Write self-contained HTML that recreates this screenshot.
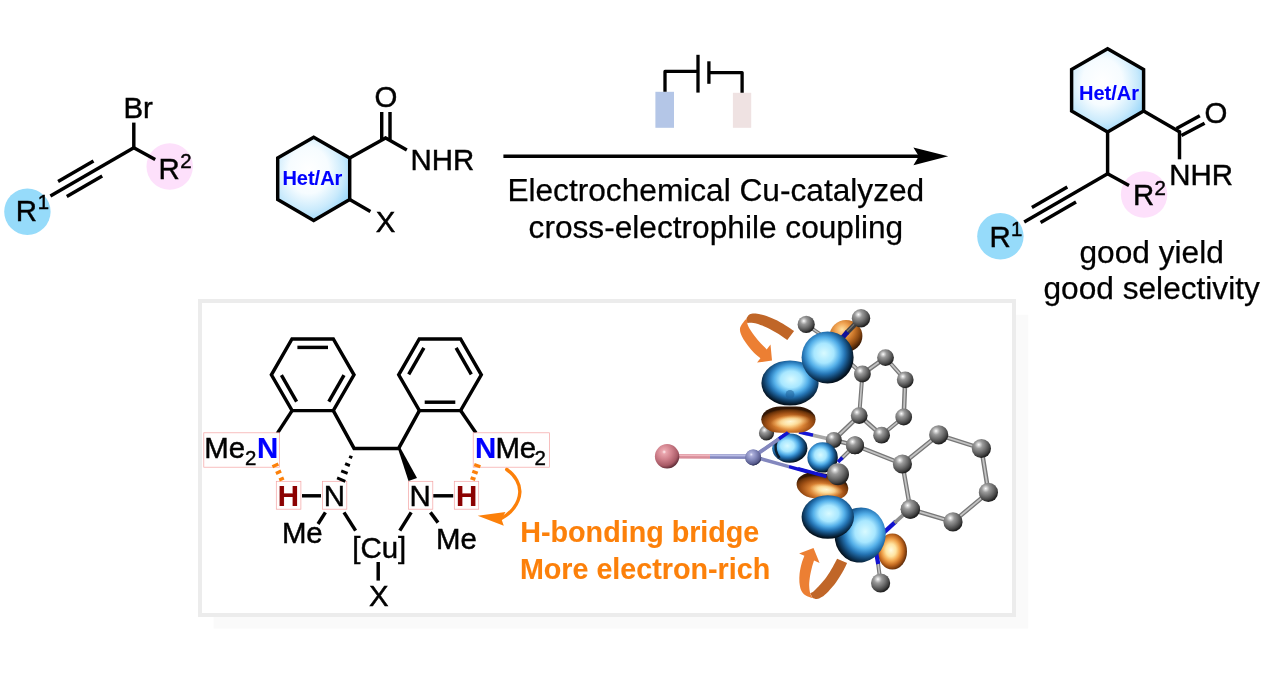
<!DOCTYPE html>
<html><head><meta charset="utf-8"><title>Graphical abstract</title>
<style>
html,body{margin:0;padding:0;background:#fff;overflow:hidden}
svg{display:block;will-change:transform;opacity:0.9999}
text{font-family:"Liberation Sans",sans-serif}
</style></head><body>
<svg width="1268" height="677" viewBox="0 0 1268 677">
<defs>
<radialGradient id="hexg" cx="43%" cy="40%" r="62%">
<stop offset="0" stop-color="#ffffff"/><stop offset="0.45" stop-color="#f6fcff"/><stop offset="0.78" stop-color="#c9eafc"/><stop offset="1" stop-color="#a0d9fa"/>
</radialGradient>
<radialGradient id="gs" cx="36%" cy="30%" r="68%">
<stop offset="0" stop-color="#ffffff"/><stop offset="0.1" stop-color="#dadada"/><stop offset="0.3" stop-color="#9a9a9a"/><stop offset="0.6" stop-color="#6e6e6e"/><stop offset="0.88" stop-color="#404040"/><stop offset="1" stop-color="#232323"/>
</radialGradient>
<radialGradient id="bl" cx="43%" cy="42%" r="58%">
<stop offset="0" stop-color="#d8faff"/><stop offset="0.33" stop-color="#a8e7ff"/><stop offset="0.53" stop-color="#55b0e9"/><stop offset="0.69" stop-color="#2575b5"/><stop offset="0.85" stop-color="#103f68"/><stop offset="1" stop-color="#04121f"/>
</radialGradient>
<radialGradient id="og" cx="45%" cy="46%" r="58%">
<stop offset="0" stop-color="#fffbe0"/><stop offset="0.3" stop-color="#ffe4a0"/><stop offset="0.52" stop-color="#f2a64e"/><stop offset="0.72" stop-color="#c46a20"/><stop offset="0.9" stop-color="#7a3a0c"/><stop offset="1" stop-color="#3e1c04"/>
</radialGradient>
<radialGradient id="pk" cx="38%" cy="32%" r="70%">
<stop offset="0" stop-color="#fff0f1"/><stop offset="0.12" stop-color="#eaa6ae"/><stop offset="0.45" stop-color="#d0818c"/><stop offset="0.8" stop-color="#a85a66"/><stop offset="1" stop-color="#5e2c36"/>
</radialGradient>
<radialGradient id="cu" cx="38%" cy="32%" r="70%">
<stop offset="0" stop-color="#eef0ff"/><stop offset="0.15" stop-color="#abaeda"/><stop offset="0.5" stop-color="#8186b9"/><stop offset="0.85" stop-color="#565a8c"/><stop offset="1" stop-color="#2c2f55"/>
</radialGradient>
<radialGradient id="bl2" cx="52%" cy="42%" r="56%">
<stop offset="0" stop-color="#d8faff"/><stop offset="0.33" stop-color="#a8e7ff"/><stop offset="0.53" stop-color="#55b0e9"/><stop offset="0.69" stop-color="#2575b5"/><stop offset="0.85" stop-color="#103f68"/><stop offset="1" stop-color="#04121f"/>
</radialGradient>
<radialGradient id="og2" cx="52%" cy="66%" r="58%">
<stop offset="0" stop-color="#fff0c0"/><stop offset="0.22" stop-color="#f6c074"/><stop offset="0.45" stop-color="#d98234"/><stop offset="0.7" stop-color="#a35216"/><stop offset="0.9" stop-color="#6a3208"/><stop offset="1" stop-color="#321604"/>
</radialGradient>
<linearGradient id="oa2" x1="0" y1="0" x2="1" y2="0">
<stop offset="0" stop-color="#f08436"/><stop offset="1" stop-color="#c4672a"/>
</linearGradient>
<radialGradient id="bl3" cx="58%" cy="42%" r="60%">
<stop offset="0" stop-color="#d8faff"/><stop offset="0.33" stop-color="#a8e7ff"/><stop offset="0.53" stop-color="#55b0e9"/><stop offset="0.69" stop-color="#2575b5"/><stop offset="0.85" stop-color="#103f68"/><stop offset="1" stop-color="#04121f"/>
</radialGradient>
<radialGradient id="og3" cx="38%" cy="30%" r="70%">
<stop offset="0" stop-color="#ffe0a0"/><stop offset="0.3" stop-color="#f0a352"/><stop offset="0.55" stop-color="#c87428"/><stop offset="0.78" stop-color="#8e4a12"/><stop offset="1" stop-color="#3e1c04"/>
</radialGradient>
<radialGradient id="hl" cx="50%" cy="50%" r="50%">
<stop offset="0" stop-color="#fff8d8" stop-opacity="0.95"/><stop offset="0.5" stop-color="#ffe7a8" stop-opacity="0.7"/><stop offset="1" stop-color="#f6b868" stop-opacity="0"/>
</radialGradient>
<linearGradient id="oa1" x1="0" y1="0" x2="1" y2="0">
<stop offset="0" stop-color="#f08436"/><stop offset="1" stop-color="#c4672a"/>
</linearGradient>
</defs>
<rect x="0" y="0" width="1268" height="677" fill="#fff"/>

<circle cx="27.4" cy="211.7" r="23.2" fill="#96dbfa"/>
<circle cx="169.7" cy="166.5" r="23.2" fill="#fde0fb"/>
<line x1="133.8" y1="147.8" x2="155.2" y2="159.5" stroke="#000" stroke-width="3.45" stroke-linecap="butt"/>
<line x1="133.8" y1="147.8" x2="50.4" y2="195.9" stroke="#000" stroke-width="3.45" stroke-linecap="butt"/>
<line x1="93.5" y1="161.0" x2="58.1" y2="181.5" stroke="#000" stroke-width="3.45" stroke-linecap="butt"/>
<line x1="102.2" y1="176.1" x2="66.8" y2="196.5" stroke="#000" stroke-width="3.45" stroke-linecap="butt"/>
<line x1="133.8" y1="149.0" x2="133.8" y2="122.6" stroke="#000" stroke-width="3.45" stroke-linecap="butt"/>
<text x="123.5" y="117.8" font-size="29.4" text-anchor="start" font-weight="normal" fill="#000" stroke="#000" stroke-width="0.45">Br</text>
<text x="15.7" y="220.8" font-size="29.4" text-anchor="start" font-weight="normal" fill="#000" stroke="#000" stroke-width="0.45">R</text>
<text x="37.8" y="209.4" font-size="20.4" text-anchor="start" font-weight="normal" fill="#000" stroke="#000" stroke-width="0.45">1</text>
<text x="158.5" y="179.4" font-size="29.4" text-anchor="start" font-weight="normal" fill="#000" stroke="#000" stroke-width="0.45">R</text>
<text x="180.2" y="168.4" font-size="20.4" text-anchor="start" font-weight="normal" fill="#000" stroke="#000" stroke-width="0.45">2</text>
<path d="M313.7,137.2 L349.7,158.0 L349.7,199.6 L313.7,220.4 L277.7,199.6 L277.7,158.0 Z" fill="url(#hexg)" stroke="#000" stroke-width="3.45" stroke-linejoin="miter"/>
<text x="282.4" y="184.9" font-size="20.0" text-anchor="start" font-weight="bold" fill="#0000ff" stroke="#0000ff" stroke-width="0.1">Het/Ar</text>
<line x1="349.7" y1="158.0" x2="386.4" y2="137.4" stroke="#000" stroke-width="3.45" stroke-linecap="butt"/>
<line x1="381.7" y1="139.8" x2="381.7" y2="112.0" stroke="#000" stroke-width="3.45" stroke-linecap="butt"/>
<line x1="390.0" y1="139.8" x2="390.0" y2="112.0" stroke="#000" stroke-width="3.45" stroke-linecap="butt"/>
<text x="374.6" y="107.4" font-size="29.4" text-anchor="start" font-weight="normal" fill="#000" stroke="#000" stroke-width="0.45">O</text>
<line x1="384.8" y1="137.4" x2="406.8" y2="149.9" stroke="#000" stroke-width="3.45" stroke-linecap="butt"/>
<text x="410.6" y="169.8" font-size="29.4" text-anchor="start" font-weight="normal" fill="#000" stroke="#000" stroke-width="0.45">NHR</text>
<line x1="349.7" y1="199.6" x2="370.4" y2="211.5" stroke="#000" stroke-width="3.45" stroke-linecap="butt"/>
<text x="375.7" y="231.8" font-size="29.4" text-anchor="start" font-weight="normal" fill="#000" stroke="#000" stroke-width="0.45">X</text>
<line x1="503.4" y1="156.3" x2="920.0" y2="156.3" stroke="#000" stroke-width="3.6" stroke-linecap="butt"/>
<path d="M948.2,156.3 L913.4,147.4 L918.8,156.3 L913.4,165.2 Z" fill="#000"/>
<rect x="655.4" y="91.8" width="18.6" height="36" fill="#b4c6e7"/>
<rect x="732.9" y="92.8" width="18.3" height="35" fill="#efe2e2"/>
<path d="M665.0,91.8 L665.0,71.4 L697.0,71.4" fill="none" stroke="#000" stroke-width="3.3" stroke-linejoin="round"/>
<line x1="698.0" y1="54.8" x2="698.0" y2="92.6" stroke="#000" stroke-width="3.3" stroke-linecap="butt"/>
<line x1="708.9" y1="61.3" x2="708.9" y2="83.8" stroke="#000" stroke-width="3.3" stroke-linecap="butt"/>
<path d="M710.0,72.6 L742.1,72.6 L742.1,92.8" fill="none" stroke="#000" stroke-width="3.3" stroke-linejoin="round"/>
<text x="507.4" y="201.4" font-size="31.65" text-anchor="start" font-weight="normal" fill="#000" stroke="#000" stroke-width="0.25">Electrochemical Cu-catalyzed</text>
<text x="528.6" y="237.5" font-size="31.65" text-anchor="start" font-weight="normal" fill="#000" stroke="#000" stroke-width="0.25">cross-electrophile coupling</text>
<path d="M1107.6,48.7 L1143.6,69.5 L1143.6,111.1 L1107.6,131.9 L1071.6,111.1 L1071.6,69.5 Z" fill="url(#hexg)" stroke="#000" stroke-width="3.45" stroke-linejoin="miter"/>
<text x="1079.0" y="99.8" font-size="20.0" text-anchor="start" font-weight="bold" fill="#0000ff" stroke="#0000ff" stroke-width="0.1">Het/Ar</text>
<circle cx="1000.4" cy="236.3" r="23.2" fill="#96dbfa"/>
<circle cx="1144.1" cy="194.5" r="23.2" fill="#fde0fb"/>
<line x1="1107.6" y1="173.8" x2="1129.0" y2="185.5" stroke="#000" stroke-width="3.45" stroke-linecap="butt"/>
<line x1="1107.6" y1="173.8" x2="1024.2" y2="221.9" stroke="#000" stroke-width="3.45" stroke-linecap="butt"/>
<line x1="1067.3" y1="187.0" x2="1031.9" y2="207.5" stroke="#000" stroke-width="3.45" stroke-linecap="butt"/>
<line x1="1076.0" y1="202.1" x2="1040.6" y2="222.5" stroke="#000" stroke-width="3.45" stroke-linecap="butt"/>
<line x1="1107.6" y1="175.0" x2="1107.6" y2="131.9" stroke="#000" stroke-width="3.45" stroke-linecap="butt"/>
<text x="989.5" y="247.3" font-size="29.4" text-anchor="start" font-weight="normal" fill="#000" stroke="#000" stroke-width="0.45">R</text>
<text x="1011.1" y="236.3" font-size="20.4" text-anchor="start" font-weight="normal" fill="#000" stroke="#000" stroke-width="0.45">1</text>
<text x="1133.1" y="205.3" font-size="29.4" text-anchor="start" font-weight="normal" fill="#000" stroke="#000" stroke-width="0.45">R</text>
<text x="1154.5" y="194.5" font-size="20.4" text-anchor="start" font-weight="normal" fill="#000" stroke="#000" stroke-width="0.45">2</text>
<line x1="1143.6" y1="111.1" x2="1180.3" y2="132.2" stroke="#000" stroke-width="3.45" stroke-linecap="butt"/>
<line x1="1176.5" y1="128.5" x2="1199.8" y2="115.7" stroke="#000" stroke-width="3.45" stroke-linecap="butt"/>
<line x1="1181.4" y1="135.6" x2="1204.6" y2="123.2" stroke="#000" stroke-width="3.45" stroke-linecap="butt"/>
<text x="1204.6" y="122.5" font-size="29.4" text-anchor="start" font-weight="normal" fill="#000" stroke="#000" stroke-width="0.45">O</text>
<line x1="1179.5" y1="130.9" x2="1179.5" y2="159.3" stroke="#000" stroke-width="3.45" stroke-linecap="butt"/>
<text x="1169.2" y="184.7" font-size="29.4" text-anchor="start" font-weight="normal" fill="#000" stroke="#000" stroke-width="0.45">NHR</text>
<text x="1079.5" y="262.8" font-size="31.65" text-anchor="start" font-weight="normal" fill="#000" stroke="#000" stroke-width="0.25">good yield</text>
<text x="1043.5" y="298.7" font-size="31.65" text-anchor="start" font-weight="normal" fill="#000" stroke="#000" stroke-width="0.25">good selectivity</text>
<rect x="213.6" y="314.8" width="814.6" height="313.8" fill="#fafafa"/>
<rect x="200" y="301" width="814" height="314" fill="#fff" stroke="#ececec" stroke-width="4"/>
<path d="M292.0,339.0 L333.3,339.0 L354.0,374.8 L333.3,410.6 L292.1,410.6 L271.4,374.8 Z" fill="none" stroke="#000" stroke-width="3.45" stroke-linejoin="miter"/>
<line x1="297.4" y1="347.4" x2="328.0" y2="347.4" stroke="#000" stroke-width="3.45" stroke-linecap="butt"/>
<line x1="344.0" y1="375.2" x2="328.8" y2="401.7" stroke="#000" stroke-width="3.45" stroke-linecap="butt"/>
<line x1="296.6" y1="401.7" x2="281.4" y2="375.2" stroke="#000" stroke-width="3.45" stroke-linecap="butt"/>
<path d="M419.3,339.0 L460.6,339.0 L481.3,374.8 L460.6,410.6 L419.4,410.6 L398.7,374.8 Z" fill="none" stroke="#000" stroke-width="3.45" stroke-linejoin="miter"/>
<line x1="456.1" y1="347.9" x2="471.3" y2="374.4" stroke="#000" stroke-width="3.45" stroke-linecap="butt"/>
<line x1="455.3" y1="402.2" x2="424.7" y2="402.2" stroke="#000" stroke-width="3.45" stroke-linecap="butt"/>
<line x1="408.7" y1="374.4" x2="423.9" y2="347.9" stroke="#000" stroke-width="3.45" stroke-linecap="butt"/>
<line x1="292.1" y1="410.6" x2="277.3" y2="433.4" stroke="#000" stroke-width="3.45" stroke-linecap="butt"/>
<path d="M333.3,410.6 L354.1,448.4 L398.6,448.4 L419.4,410.6" fill="none" stroke="#000" stroke-width="3.45" stroke-linejoin="miter"/>
<line x1="460.6" y1="410.6" x2="476.0" y2="432.9" stroke="#000" stroke-width="3.45" stroke-linecap="butt"/>
<rect x="203.8" y="432.8" width="75.8" height="34.4" fill="#fffefe" stroke="#f4a3a3" stroke-width="0.7"/>
<rect x="473.2" y="432.8" width="76.4" height="34.4" fill="#fffefe" stroke="#f4a3a3" stroke-width="0.7"/>
<rect x="276.3" y="481.3" width="24.6" height="27.9" fill="#fffefe" stroke="#f4a3a3" stroke-width="0.7"/>
<rect x="322.4" y="481.3" width="24.4" height="27.9" fill="#fffefe" stroke="#f4a3a3" stroke-width="0.7"/>
<rect x="408.6" y="481.3" width="24.2" height="27.9" fill="#fffefe" stroke="#f4a3a3" stroke-width="0.7"/>
<rect x="454.3" y="481.3" width="24.4" height="27.9" fill="#fffefe" stroke="#f4a3a3" stroke-width="0.7"/>
<text x="204.2" y="458.3" font-size="29.4" text-anchor="start" font-weight="normal" fill="#000" stroke="#000" stroke-width="0.45">Me</text>
<text x="244.9" y="464.6" font-size="20.4" text-anchor="start" font-weight="normal" fill="#000" stroke="#000" stroke-width="0.45">2</text>
<text x="256.9" y="457.8" font-size="29.4" text-anchor="start" font-weight="bold" fill="#0000ff" stroke="#0000ff" stroke-width="0.2">N</text>
<text x="475.1" y="457.8" font-size="29.4" text-anchor="start" font-weight="bold" fill="#0000ff" stroke="#0000ff" stroke-width="0.2">N</text>
<text x="495.4" y="458.3" font-size="29.4" text-anchor="start" font-weight="normal" fill="#000" stroke="#000" stroke-width="0.45">Me</text>
<text x="534.6" y="464.6" font-size="20.4" text-anchor="start" font-weight="normal" fill="#000" stroke="#000" stroke-width="0.45">2</text>
<text x="277.8" y="506.0" font-size="29.4" text-anchor="start" font-weight="bold" fill="#8b0000" stroke="#8b0000" stroke-width="0.2">H</text>
<text x="456.0" y="506.0" font-size="29.4" text-anchor="start" font-weight="bold" fill="#8b0000" stroke="#8b0000" stroke-width="0.2">H</text>
<text x="323.8" y="506.0" font-size="29.4" text-anchor="start" font-weight="normal" fill="#000" stroke="#000" stroke-width="0.45">N</text>
<text x="409.5" y="506.0" font-size="29.4" text-anchor="start" font-weight="normal" fill="#000" stroke="#000" stroke-width="0.45">N</text>
<line x1="302.0" y1="495.8" x2="321.0" y2="495.8" stroke="#000" stroke-width="3.45" stroke-linecap="butt"/>
<line x1="433.3" y1="495.8" x2="453.2" y2="495.8" stroke="#000" stroke-width="3.45" stroke-linecap="butt"/>
<line x1="349.1" y1="456.5" x2="352.3" y2="457.7" stroke="#000" stroke-width="2.9" stroke-linecap="butt"/>
<line x1="345.1" y1="463.6" x2="349.9" y2="465.6" stroke="#000" stroke-width="2.9" stroke-linecap="butt"/>
<line x1="341.2" y1="470.8" x2="347.6" y2="473.4" stroke="#000" stroke-width="2.9" stroke-linecap="butt"/>
<line x1="337.1" y1="477.9" x2="345.3" y2="481.3" stroke="#000" stroke-width="2.9" stroke-linecap="butt"/>
<path d="M397.6,447.6 L399.8,446.8 L417.0,478.0 L408.5,481.0 Z" fill="#000"/>
<line x1="272.4" y1="466.7" x2="278.4" y2="463.9" stroke="#fc800a" stroke-width="3.3" stroke-linecap="butt"/>
<line x1="275.9" y1="473.4" x2="281.1" y2="471.0" stroke="#fc800a" stroke-width="3.3" stroke-linecap="butt"/>
<line x1="279.2" y1="479.9" x2="283.8" y2="477.9" stroke="#fc800a" stroke-width="3.3" stroke-linecap="butt"/>
<line x1="474.2" y1="464.6" x2="480.4" y2="466.8" stroke="#fc800a" stroke-width="3.3" stroke-linecap="butt"/>
<line x1="472.3" y1="471.3" x2="477.7" y2="473.3" stroke="#fc800a" stroke-width="3.3" stroke-linecap="butt"/>
<line x1="470.6" y1="477.8" x2="475.4" y2="479.4" stroke="#fc800a" stroke-width="3.3" stroke-linecap="butt"/>
<line x1="325.4" y1="512.4" x2="318.0" y2="524.0" stroke="#000" stroke-width="3.45" stroke-linecap="butt"/>
<line x1="344.0" y1="512.4" x2="355.6" y2="530.6" stroke="#000" stroke-width="3.45" stroke-linecap="butt"/>
<line x1="411.2" y1="512.4" x2="399.8" y2="530.6" stroke="#000" stroke-width="3.45" stroke-linecap="butt"/>
<line x1="430.4" y1="512.4" x2="438.0" y2="522.6" stroke="#000" stroke-width="3.45" stroke-linecap="butt"/>
<text x="281.9" y="543.4" font-size="29.4" text-anchor="start" font-weight="normal" fill="#000" stroke="#000" stroke-width="0.45">Me</text>
<text x="436.1" y="548.7" font-size="29.4" text-anchor="start" font-weight="normal" fill="#000" stroke="#000" stroke-width="0.45">Me</text>
<text x="352.3" y="557.8" font-size="29.4" text-anchor="start" font-weight="normal" fill="#000" stroke="#000" stroke-width="0.45">[Cu]</text>
<line x1="378.2" y1="562.0" x2="378.2" y2="580.6" stroke="#000" stroke-width="3.45" stroke-linecap="butt"/>
<text x="368.9" y="606.4" font-size="29.4" text-anchor="start" font-weight="normal" fill="#000" stroke="#000" stroke-width="0.45">X</text>
<path d="M506.7,469.5 C515.5,475.5 520.3,484.5 519.8,492.5 C519.2,503.5 511,513.5 501.2,518.4" fill="none" stroke="#fc800a" stroke-width="3.4" stroke-linecap="round"/>
<path d="M477.7,515.7 L505.5,512.0 L501.4,518.9 L503.8,525.7 Z" fill="#fc800a"/>
<text x="520.3" y="542.2" font-size="28.7" text-anchor="start" font-weight="bold" fill="#fc800a" stroke="#fc800a" stroke-width="0.1">H-bonding bridge</text>
<text x="519.9" y="579.2" font-size="28.7" text-anchor="start" font-weight="bold" fill="#fc800a" stroke="#fc800a" stroke-width="0.1">More electron-rich</text>
<line x1="862.4" y1="374.0" x2="885.5" y2="357.6" stroke="#787878" stroke-width="4.6" stroke-linecap="round"/>
<line x1="862.4" y1="374.0" x2="885.5" y2="357.6" stroke="#c4c4c4" stroke-width="1.8" stroke-linecap="round"/>
<line x1="885.5" y1="357.6" x2="905.2" y2="379.8" stroke="#787878" stroke-width="4.0" stroke-linecap="round"/>
<line x1="885.5" y1="357.6" x2="905.2" y2="379.8" stroke="#c4c4c4" stroke-width="1.6" stroke-linecap="round"/>
<line x1="905.2" y1="379.8" x2="903.7" y2="417.0" stroke="#787878" stroke-width="4.6" stroke-linecap="round"/>
<line x1="905.2" y1="379.8" x2="903.7" y2="417.0" stroke="#c4c4c4" stroke-width="1.8" stroke-linecap="round"/>
<line x1="903.7" y1="417.0" x2="881.6" y2="435.2" stroke="#787878" stroke-width="4.0" stroke-linecap="round"/>
<line x1="903.7" y1="417.0" x2="881.6" y2="435.2" stroke="#c4c4c4" stroke-width="1.6" stroke-linecap="round"/>
<line x1="881.6" y1="435.2" x2="859.2" y2="415.6" stroke="#787878" stroke-width="4.6" stroke-linecap="round"/>
<line x1="881.6" y1="435.2" x2="859.2" y2="415.6" stroke="#c4c4c4" stroke-width="1.8" stroke-linecap="round"/>
<line x1="859.2" y1="415.6" x2="862.4" y2="374.0" stroke="#787878" stroke-width="4.0" stroke-linecap="round"/>
<line x1="859.2" y1="415.6" x2="862.4" y2="374.0" stroke="#c4c4c4" stroke-width="1.6" stroke-linecap="round"/>
<line x1="902.4" y1="464.0" x2="938.7" y2="434.8" stroke="#787878" stroke-width="4.6" stroke-linecap="round"/>
<line x1="902.4" y1="464.0" x2="938.7" y2="434.8" stroke="#c4c4c4" stroke-width="1.8" stroke-linecap="round"/>
<line x1="938.7" y1="434.8" x2="981.4" y2="448.5" stroke="#787878" stroke-width="4.4" stroke-linecap="round"/>
<line x1="938.7" y1="434.8" x2="981.4" y2="448.5" stroke="#c4c4c4" stroke-width="1.8" stroke-linecap="round"/>
<line x1="981.4" y1="448.5" x2="988.4" y2="492.4" stroke="#787878" stroke-width="4.6" stroke-linecap="round"/>
<line x1="981.4" y1="448.5" x2="988.4" y2="492.4" stroke="#c4c4c4" stroke-width="1.8" stroke-linecap="round"/>
<line x1="988.4" y1="492.4" x2="953.0" y2="521.9" stroke="#787878" stroke-width="4.4" stroke-linecap="round"/>
<line x1="988.4" y1="492.4" x2="953.0" y2="521.9" stroke="#c4c4c4" stroke-width="1.8" stroke-linecap="round"/>
<line x1="953.0" y1="521.9" x2="910.3" y2="509.2" stroke="#787878" stroke-width="4.6" stroke-linecap="round"/>
<line x1="953.0" y1="521.9" x2="910.3" y2="509.2" stroke="#c4c4c4" stroke-width="1.8" stroke-linecap="round"/>
<line x1="910.3" y1="509.2" x2="902.4" y2="464.0" stroke="#787878" stroke-width="4.4" stroke-linecap="round"/>
<line x1="910.3" y1="509.2" x2="902.4" y2="464.0" stroke="#c4c4c4" stroke-width="1.8" stroke-linecap="round"/>
<line x1="859.2" y1="415.6" x2="833.8" y2="440.0" stroke="#787878" stroke-width="4.6" stroke-linecap="round"/>
<line x1="859.2" y1="415.6" x2="833.8" y2="440.0" stroke="#c4c4c4" stroke-width="1.8" stroke-linecap="round"/>
<line x1="855.0" y1="445.3" x2="902.4" y2="464.0" stroke="#787878" stroke-width="4.4" stroke-linecap="round"/>
<line x1="855.0" y1="445.3" x2="902.4" y2="464.0" stroke="#c4c4c4" stroke-width="1.8" stroke-linecap="round"/>
<line x1="833.8" y1="440.0" x2="855.0" y2="445.3" stroke="#787878" stroke-width="4.4" stroke-linecap="round"/>
<line x1="833.8" y1="440.0" x2="855.0" y2="445.3" stroke="#c4c4c4" stroke-width="1.8" stroke-linecap="round"/>
<line x1="862.4" y1="374.0" x2="838.0" y2="352.0" stroke="#787878" stroke-width="4.2" stroke-linecap="round"/>
<line x1="862.4" y1="374.0" x2="838.0" y2="352.0" stroke="#c4c4c4" stroke-width="1.7" stroke-linecap="round"/>
<line x1="803.0" y1="433.0" x2="833.8" y2="440.0" stroke="#a8a8a8" stroke-width="3.6"/>
<line x1="799.0" y1="432.0" x2="813.0" y2="435.2" stroke="#1414d8" stroke-width="3.4"/>
<line x1="666.6" y1="456.3" x2="710" y2="456.5" stroke="#d98e9a" stroke-width="4.6"/>
<line x1="710" y1="456.5" x2="753.2" y2="456.6" stroke="#8387be" stroke-width="4.6"/>
<line x1="666.6" y1="455.3" x2="710" y2="455.5" stroke="#f0b6be" stroke-width="1.6"/>
<line x1="710" y1="455.5" x2="753.2" y2="455.6" stroke="#b9bce6" stroke-width="1.6"/>
<line x1="753.2" y1="456.6" x2="780.4" y2="437.9" stroke="#8387be" stroke-width="3.5"/>
<line x1="780.4" y1="437.9" x2="789.0" y2="432.0" stroke="#1212d0" stroke-width="3.5"/>
<circle cx="766.5" cy="433.0" r="7.6" fill="url(#gs)"/>
<line x1="753.2" y1="456.6" x2="788.9" y2="466.6" stroke="#8387be" stroke-width="3.5"/>
<line x1="788.9" y1="466.6" x2="824.5" y2="476.5" stroke="#1212d0" stroke-width="3.5"/>
<circle cx="667.1" cy="456.3" r="12.2" fill="url(#pk)"/>
<circle cx="753.2" cy="457.4" r="8.0" fill="url(#cu)"/>
<line x1="806.2" y1="324.4" x2="820.0" y2="334.0" stroke="#787878" stroke-width="3.6" stroke-linecap="round"/>
<line x1="806.2" y1="324.4" x2="820.0" y2="334.0" stroke="#c4c4c4" stroke-width="1.4" stroke-linecap="round"/>
<circle cx="806.2" cy="324.4" r="8.6" fill="url(#gs)"/>
<circle cx="862.4" cy="374.0" r="8.4" fill="url(#gs)"/>
<circle cx="885.5" cy="357.6" r="8.4" fill="url(#gs)"/>
<circle cx="905.2" cy="379.8" r="8.4" fill="url(#gs)"/>
<circle cx="903.7" cy="417.0" r="8.4" fill="url(#gs)"/>
<circle cx="881.6" cy="435.2" r="8.4" fill="url(#gs)"/>
<circle cx="859.2" cy="415.6" r="8.4" fill="url(#gs)"/>
<circle cx="902.4" cy="464.0" r="9.6" fill="url(#gs)"/>
<circle cx="938.7" cy="434.8" r="9.6" fill="url(#gs)"/>
<circle cx="981.4" cy="448.5" r="9.6" fill="url(#gs)"/>
<circle cx="988.4" cy="492.4" r="9.6" fill="url(#gs)"/>
<circle cx="953.0" cy="521.9" r="9.6" fill="url(#gs)"/>
<circle cx="910.3" cy="509.2" r="9.6" fill="url(#gs)"/>
<circle cx="833.8" cy="440.0" r="8.0" fill="url(#gs)"/>
<circle cx="855.0" cy="445.3" r="9.0" fill="url(#gs)"/>
<ellipse cx="846.0" cy="336.0" rx="16.4" ry="16.0" fill="url(#og3)" transform="rotate(0 846.0 336.0)"/>
<line x1="861.0" y1="318.2" x2="846.5" y2="333.0" stroke="#3e3e3e" stroke-width="5.0"/>
<line x1="860.0" y1="318.2" x2="845.5" y2="333.0" stroke="#707070" stroke-width="1.4"/>
<line x1="847.5" y1="331.8" x2="840.5" y2="340.0" stroke="#10109a" stroke-width="5.0"/>
<circle cx="861.0" cy="318.2" r="9.2" fill="url(#gs)"/>
<ellipse cx="790.0" cy="383.0" rx="28.6" ry="22.6" fill="url(#bl2)" transform="rotate(0 790.0 383.0)"/>
<circle cx="790" cy="394.4" r="4.4" fill="#1d5f97" opacity="0.55"/>
<ellipse cx="827.6" cy="357.4" rx="26.0" ry="26.0" fill="url(#bl)" transform="rotate(0 827.6 357.4)"/>
<rect x="761.2" y="406.4" width="54.4" height="26.4" rx="19.1" ry="13.2" fill="url(#og2)" transform="rotate(0 788.4 419.6)"/>
<ellipse cx="790.5" cy="421.5" rx="20.0" ry="6.6" fill="url(#hl)" transform="rotate(-5 790.5 421.5)"/>
<ellipse cx="789.8" cy="448.2" rx="17.6" ry="14.6" fill="url(#bl)" transform="rotate(0 789.8 448.2)"/>
<path d="M776.5,441 Q773.5,450 779.5,458" stroke="#08131f" stroke-width="2.6" fill="none" opacity="0.9"/>
<line x1="759.2" y1="452.8" x2="780" y2="438.2" stroke="#8387be" stroke-width="3.5"/>
<line x1="779" y1="438.9" x2="788.0" y2="432.6" stroke="#1212d0" stroke-width="3.5"/>
<circle cx="753.2" cy="457.4" r="8.0" fill="url(#cu)"/>
<ellipse cx="822.6" cy="457.4" rx="15.2" ry="15.2" fill="url(#bl)" transform="rotate(0 822.6 457.4)"/>
<rect x="796.4" y="473.4" width="52.0" height="26.0" rx="18.8" ry="13.0" fill="url(#og2)" transform="rotate(8 822.4 486.4)"/>
<ellipse cx="826.5" cy="489.5" rx="17.0" ry="6.0" fill="url(#hl)" transform="rotate(8 826.5 489.5)"/>
<line x1="798" y1="468.6" x2="826.5" y2="476.5" stroke="#1212d0" stroke-width="3.5"/>
<line x1="855.0" y1="445.3" x2="841.5" y2="458.5" stroke="#787878" stroke-width="4.0" stroke-linecap="round"/>
<line x1="855.0" y1="445.3" x2="841.5" y2="458.5" stroke="#c4c4c4" stroke-width="1.6" stroke-linecap="round"/>
<line x1="842.5" y1="457.5" x2="838" y2="462" stroke="#1212d0" stroke-width="3.5"/>
<circle cx="855.0" cy="445.3" r="9.0" fill="url(#gs)"/>
<circle cx="838.0" cy="474.2" r="11.0" fill="url(#gs)"/>
<line x1="884" y1="532.4" x2="896" y2="521.4" stroke="#1212d0" stroke-width="4.2"/>
<line x1="894.5" y1="522.8" x2="905.3" y2="513.2" stroke="#8e8e8e" stroke-width="3.8"/>
<circle cx="910.3" cy="509.2" r="9.6" fill="url(#gs)"/>
<ellipse cx="892.4" cy="551.6" rx="14.6" ry="18.0" fill="url(#og)" transform="rotate(0 892.4 551.6)"/>
<line x1="878.0" y1="563.0" x2="880.6" y2="583.0" stroke="#787878" stroke-width="4.0" stroke-linecap="round"/>
<line x1="878.0" y1="563.0" x2="880.6" y2="583.0" stroke="#c4c4c4" stroke-width="1.6" stroke-linecap="round"/>
<line x1="875.4" y1="549" x2="878.2" y2="564" stroke="#1212d0" stroke-width="4.2"/>
<circle cx="880.6" cy="583.0" r="9.6" fill="url(#gs)"/>
<ellipse cx="860.2" cy="535.0" rx="25.4" ry="27.6" fill="url(#bl3)" transform="rotate(12 860.2 535.0)"/>
<ellipse cx="827.8" cy="517.0" rx="26.2" ry="21.8" fill="url(#bl2)" transform="rotate(0 827.8 517.0)"/>
<path d="M794.1,330.9 C792.2,329.7 786.8,325.9 783.0,323.7 C779.3,321.6 775.2,319.5 771.5,318.0 C767.8,316.4 763.8,315.3 760.9,314.6 C758.0,313.9 756.1,313.6 754.2,313.6 C752.3,313.6 750.7,313.8 749.4,314.6 C748.1,315.4 747.0,317.8 746.5,318.4 L747.3,323.1 C747.8,323.0 748.7,322.7 750.4,322.8 C752.0,322.9 754.4,322.9 757.1,323.7 C759.8,324.5 763.3,326.0 766.7,327.6 C770.0,329.2 773.8,331.2 777.3,333.3 C780.7,335.4 785.7,338.9 787.3,340.0 Z" fill="#c06628"/>
<path d="M746.5,318.4 C745.8,319.3 743.3,322.0 742.2,323.7 C741.1,325.4 740.2,326.8 740.0,328.5 C739.8,330.2 740.2,332.0 740.8,333.8 C741.4,335.6 742.4,337.5 743.6,339.6 C744.9,341.6 746.7,344.0 748.4,346.3 C750.2,348.5 752.2,351.0 754.2,353.0 C756.2,355.0 759.4,357.4 760.4,358.3 L757.1,362.6 L772.0,360.5 L770.5,344.6 L766.7,349.4 C765.7,348.4 762.8,345.5 760.9,343.4 C759.0,341.3 756.9,338.9 755.2,336.7 C753.4,334.4 751.6,332.0 750.4,330.0 C749.1,327.9 748.0,325.7 747.5,324.2 C747.0,322.7 747.4,321.8 747.2,320.8 C747.0,319.9 746.6,318.8 746.5,318.4 Z" fill="#ec7f33"/>
<path d="M847.1,563.0 C846.3,564.6 844.2,569.4 842.3,572.6 C840.5,575.8 838.4,579.1 836.1,582.3 C833.8,585.4 830.8,588.9 828.4,591.4 C826.0,593.9 823.6,595.9 821.7,597.1 C819.8,598.4 818.4,598.9 816.9,599.1 C815.4,599.2 813.3,598.3 812.6,598.1 L810.2,593.3 C810.8,592.9 812.4,592.3 814.0,590.9 C815.6,589.5 817.7,587.5 819.8,585.1 C821.8,582.8 824.4,579.9 826.5,577.0 C828.6,574.1 830.5,570.9 832.3,567.8 C834.0,564.8 836.3,560.2 837.1,558.7 Z" fill="#c06628"/>
<path d="M812.6,598.1 C811.4,597.6 807.3,596.6 805.4,595.2 C803.4,593.9 802.0,592.1 801.0,589.9 C800.1,587.8 799.7,585.0 799.4,582.3 C799.2,579.5 799.3,576.6 799.6,573.6 C800.0,570.6 800.7,567.0 801.5,564.0 C802.3,561.0 803.9,557.2 804.4,555.8 L799.1,553.4 L813.5,547.9 L819.6,563.0 L814.0,560.6 C813.6,562.0 812.3,565.8 811.6,568.8 C810.9,571.8 810.1,575.5 809.7,578.4 C809.3,581.3 809.1,583.6 809.2,586.1 C809.3,588.6 809.6,591.3 810.2,593.3 C810.7,595.3 812.2,597.3 812.6,598.1 Z" fill="#ec7f33"/>
</svg></body></html>
